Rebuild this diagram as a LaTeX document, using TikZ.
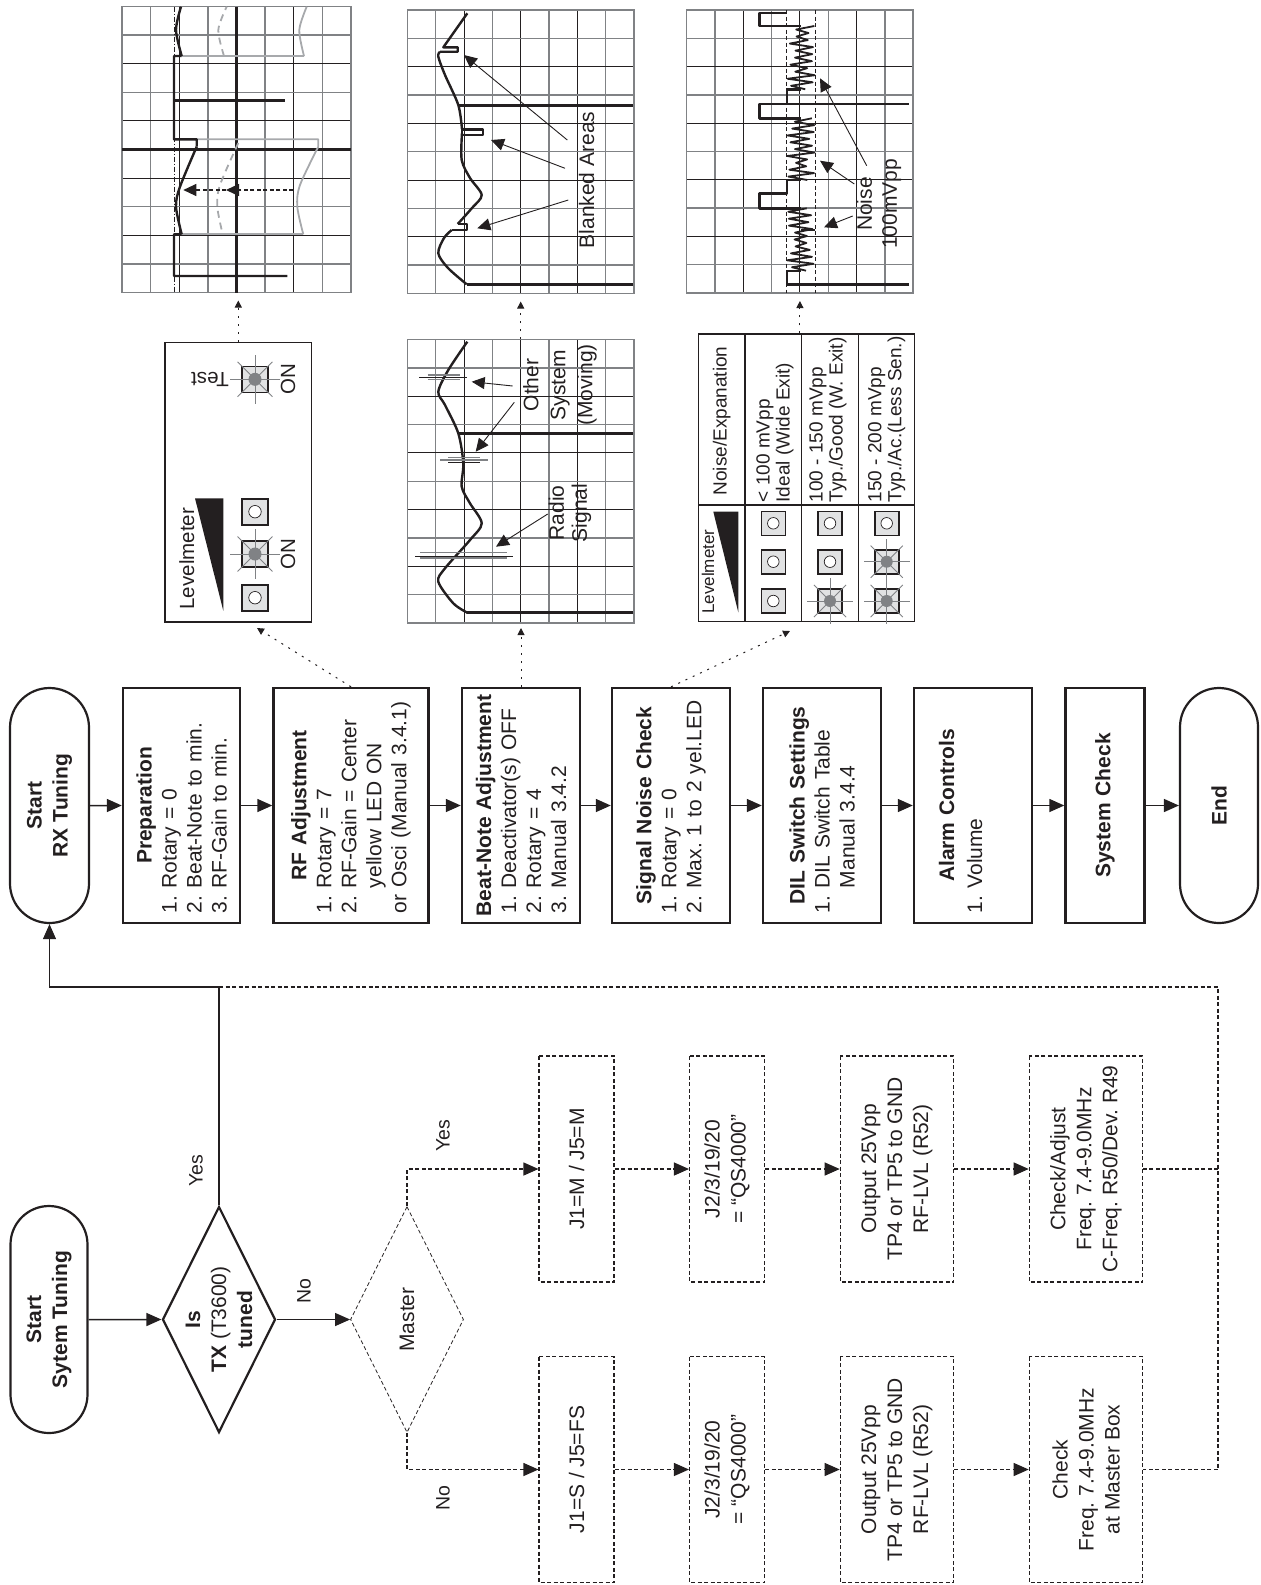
\documentclass[tikz,border=0pt]{standalone}
\usepackage{fontspec}
\setmainfont{Liberation Sans}
\usetikzlibrary{arrows.meta,positioning,calc,shapes.geometric,shapes.misc}
\definecolor{ink}{HTML}{231F20}
\definecolor{gridgray}{HTML}{808285}
\definecolor{tracegray}{HTML}{A7A9AC}
\definecolor{ledgray}{HTML}{E1E2E3}
\tikzset{
  base/.style={align=center,text=ink,font=\fontsize{21}{25}\selectfont,inner sep=0pt},
  stepbox/.style={base,draw=ink,line width=2.4pt,rotate=90,minimum width=235pt,
    text width=215pt,align=left},
  term/.style={base,draw=ink,line width=2.2pt,rotate=90,rounded rectangle,
    font=\fontsize{21}{26}\selectfont\bfseries},
  choice/.style={base,draw=ink,line width=2.2pt,rotate=90,diamond,aspect=2,inner sep=-20pt,
    minimum width=226pt,minimum height=113pt,font=\fontsize{21}{26}\selectfont},
  dashchoice/.style={choice,line width=.8pt,dash pattern=on 4pt off 2.5pt},
  dashbox/.style={base,draw=ink,line width=1.1pt,dash pattern=on 4pt off 2.5pt,rotate=90,
    minimum width=226pt,font=\fontsize{21}{26}\selectfont},
  txt/.style={base,rotate=90,font=\fontsize{19.5}{24}\selectfont},
  arrow/.style={-{Triangle[length=15pt,width=13pt]},line width=1.5pt,draw=ink},
  thinarrow/.style={arrow,line width=1.2pt},
  dasharrow/.style={arrow,line width=1.1pt,dash pattern=on 4pt off 2.5pt},
  dashline/.style={draw=ink,line width=1.1pt,dash pattern=on 4pt off 2.5pt},
  dotarrow/.style={-{Triangle[length=7pt,width=7pt]},draw=ink,line width=1pt,
    dash pattern=on 2pt off 6pt},
  callout/.style={-{Triangle[length=13pt,width=12pt]},draw=ink,line width=.9pt},
  trace/.style={draw=ink,line width=2.4pt,line join=round},
  heavy/.style={trace,line width=3pt},
  gtrace/.style={draw=tracegray,line width=1.8pt,line join=round},
  gdash/.style={gtrace,dash pattern=on 7pt off 5pt},
  ledframe/.style={draw=ink,line width=1.6pt,fill=ledgray},
  ray/.style={draw=gridgray,line width=.9pt},
  cell/.style={base,draw=ink,line width=1.4pt},
  tabtxt/.style={base,rotate=90,align=left,anchor=west,font=\fontsize{19}{20}\selectfont}
}
\newcommand{\headline}[1]{\makebox[\linewidth]{\bfseries #1}}
\newcommand{\noisetrace}[2]{%
  \draw[trace,line width=1.8pt] plot[variable=\t,domain=0:18,samples=19]
    ({800.7+cos(180*\t)*(4+10*rnd)},{#1+(#2-#1)*\t/18});
}
\newcommand{\scopegrid}[4]{%
  \foreach \i in {1,3,5,7} \draw[draw=gridgray,line width=1.4pt] ($(#2,#3)+(\i*#4,0)$) -- ++(0,10*#4);
  \foreach \i in {2,4,6} \draw[draw=ink,line width=1pt] ($(#2,#3)+(\i*#4,0)$) -- ++(0,10*#4);
  \foreach \j in {1,3,5,7,9} \draw[draw=gridgray,line width=1.4pt] ($(#2,#3)+(0,\j*#4)$) -- ++(8*#4,0);
  \foreach \j in {2,4,6,8} \draw[draw=ink,line width=1pt] ($(#2,#3)+(0,\j*#4)$) -- ++(8*#4,0);
  \draw[draw=gridgray,line width=1.4pt] (#2,#3) rectangle ++(8*#4,10*#4);
  \coordinate (#1) at ($(#2,#3)+(4*#4,10*#4)$);
}
\newcommand{\ledoff}[3]{\begin{scope}[shift={(#1,#2)}]
  \draw[ledframe] (-#3,-#3) rectangle (#3,#3);
  \draw[draw=ink,line width=.7pt,fill=white] (0,0) circle (.48*#3pt);
\end{scope}}
\newcommand{\ledon}[3]{\begin{scope}[shift={(#1,#2)}]
  \draw[ledframe] (-#3,-#3) rectangle (#3,#3);
  \foreach \a in {0,45,...,315} \draw[ray] (0,0) -- (\a:1.9*#3pt);
  \fill[gridgray] (0,0) circle (.5*#3pt);
\end{scope}}

\begin{document}
\frenchspacing
\begin{tikzpicture}[x=1pt,y=-1pt]
  \useasboundingbox (0,0) rectangle (1261,1585);

  % main row
  \node[term,minimum width=235pt,minimum height=79pt] (startrx) at (49.5,805.5) {Start\\RX Tuning};
  \node[stepbox,minimum height=117pt] (prep) at (181.5,805.5)
    {\headline{Preparation}\\1. Rotary = 0\\2. Beat-Note to min.\\3. RF-Gain to min.};
  \node[stepbox,minimum height=155pt] (rfadj) at (351,805.5)
    {\headline{RF Adjustment}\\1. Rotary = 7\\2. RF-Gain = Center\\\hspace*{25pt}yellow LED ON\\or Osci (Manual 3.4.1)};
  \node[stepbox,minimum height=118pt] (beat) at (521,805.5)
    {\headline{Beat-Note Adjustment}\\1. Deactivator(s) OFF\\2. Rotary = 4\\3. Manual 3.4.2};
  \node[stepbox,minimum height=118pt] (noisechk) at (671,805.5)
    {\headline{Signal Noise Check}\\1. Rotary = 0\\2. Max. 1 to 2 yel.LED};
  \node[stepbox,minimum height=118pt] (dil) at (822,805.5)
    {\headline{DIL Switch Settings}\\1. DIL Switch Table\\\hspace*{25pt}Manual 3.4.4};
  \node[stepbox,minimum height=118pt] (alarm) at (973,805.5)
    {\headline{Alarm Controls}\\[3pt]1. Volume\\[0pt]\mbox{}};
  \node[stepbox,minimum height=79pt] (syschk) at (1105,805.5) {\headline{System Check}};
  \node[term,minimum width=235pt,minimum height=78pt] (finish) at (1219,805.5) {End};

  \draw[arrow] (startrx) -- (prep);
  \draw[arrow] (prep) -- (rfadj);
  \draw[arrow] (rfadj) -- (beat);
  \draw[arrow] (beat) -- (noisechk);
  \draw[arrow] (noisechk) -- (dil);
  \draw[arrow] (dil) -- (alarm);
  \draw[arrow] (alarm) -- (syschk);
  \draw[arrow] (syschk) -- (finish);

  % lower part
  \node[term,minimum width=227pt,minimum height=77pt] (startsys) at (49,1319.5) {Start\\Sytem Tuning};
  \node[choice] (istx) at (219,1319.5) {\textbf{Is}\\\textbf{TX} (T3600)\\\textbf{tuned}};
  \node[dashchoice] (master) at (407,1319.5) {Master};

  \node[dashbox,minimum height=75pt] (jmaster) at (576.5,1169) {J1=M / J5=M};
  \node[dashbox,minimum height=75pt] (qmaster) at (727,1169) {J2/3/19/20\\= “QS4000”};
  \node[dashbox,minimum height=113.5pt] (omaster) at (897,1169) {Output 25Vpp\\TP4 or TP5 to GND\\RF-LVL (R52)};
  \node[dashbox,minimum height=113.5pt] (cmaster) at (1086,1169) {Check/Adjust\\Freq. 7.4-9.0MHz\\C-Freq. R50/Dev. R49};
  \node[dashbox,minimum height=75pt] (jslave) at (576.5,1469.5) {J1=S / J5=FS};
  \node[dashbox,minimum height=75pt] (qslave) at (727,1469.5) {J2/3/19/20\\= “QS4000”};
  \node[dashbox,minimum height=113.5pt] (oslave) at (897,1469.5) {Output 25Vpp\\TP4 or TP5 to GND\\RF-LVL (R52)};
  \node[dashbox,minimum height=113.5pt] (cslave) at (1086,1469.5) {Check\\Freq. 7.4-9.0MHz\\at Master Box};

  \coordinate (yesturn) at (219,987);
  \coordinate (bustop) at (1218,987);
  \coordinate (busup) at (1218,1169);
  \coordinate (buslow) at (1218,1469.5);

  \draw[arrow] (startsys) -- (istx);
  \draw[thinarrow] (istx) -- (master);
  \draw[thinarrow] (istx.east) -- (yesturn) -| (startrx.west);
  \draw[dasharrow] (master.east) |- (jmaster);
  \draw[dasharrow] (master.west) |- (jslave);
  \draw[dasharrow] (jmaster) -- (qmaster);
  \draw[dasharrow] (qmaster) -- (omaster);
  \draw[dasharrow] (omaster) -- (cmaster);
  \draw[dasharrow] (jslave) -- (qslave);
  \draw[dasharrow] (qslave) -- (oslave);
  \draw[dasharrow] (oslave) -- (cslave);
  \draw[dashline] (yesturn) -- (bustop) -- (buslow) -- (cslave);
  \draw[dashline] (busup) -- (cmaster);

  \node[txt] (yesmain) at (196,1171) {Yes};
  \node[txt] (nomain) at (304,1291) {No};
  \node[txt] (yesmaster) at (443,1136) {Yes};
  \node[txt] (nomaster) at (443,1498) {No};

  % scope pictures
  \scopegrid{scopeA}{122}{6.5}{28.6}
  \scopegrid{scopeB}{407.3}{10}{28.35}
  \scopegrid{scopeC}{686.7}{10}{28.3}
  \scopegrid{scopeD}{407.3}{339.5}{28.35}

  \draw[heavy] (236.7,6.5) -- (236.7,292.5);
  \draw[heavy] (122,149) -- (351,149);
  \draw[draw=ink,line width=.8pt,dash pattern=on 5pt off 2pt on 1pt off 2pt] (174,6.5) -- (174,292.5);
  \draw[gtrace] (181.7,56) -- (304,56) plot[smooth] coordinates {(304,56) (299.3,30) (306.7,6.7)};
  \draw[gtrace] (196.7,139.3) -- (318.3,139.3) -- (318.3,146.7) plot[smooth] coordinates {(318.3,146.7) (300,185) (297.3,206.7) (303.3,234.3)};
  \draw[gtrace] (303.3,234.3) -- (181.7,234.3);
  \draw[gdash] plot[smooth] coordinates {(224,56) (218.3,30) (226.7,6.7)};
  \draw[gdash] plot[smooth] coordinates {(238.3,143) (220,185) (217.3,206.7) (222.7,234.3)};
  \draw[trace] (287.3,276) -- (174,276) -- (174,234.3) -- (181.7,234.3) plot[smooth] coordinates {(181.7,234.3) (176,206.7) (180,186.7) (196.7,146.7)};
  \draw[trace] (196.7,146.7) -- (196.7,139.3) -- (174,139.3) -- (174,56) -- (181.7,56) plot[smooth] coordinates {(181.7,56) (176,30) (181,6.7)};
  \draw[heavy] (174,100) -- (285,100);
  \draw[dashline,-{Triangle[length=13pt,width=12pt]}] (293.3,190) -- (226,190);
  \draw[dashline,-{Triangle[length=13pt,width=12pt]}] (226,190) -- (183.3,190);

  \draw[heavy] (633.3,284.3) -- (466.7,284.3);
  \draw[trace] plot[smooth] coordinates {(466.7,284.3) (448,268) (438.3,253.3) (444,238) (451.7,230)};
  \draw[trace] (451.7,230) -- (466.7,230) -- (466.7,224) -- (457.7,224);
  \draw[trace] plot[smooth] coordinates {(457.7,224) (472,208) (481.7,195) (470,178) (461.7,160) (462,133)};
  \draw[trace] (462,129.3) rectangle (482.7,135);
  \draw[trace] plot[smooth] coordinates {(462,129.3) (458.3,105) (445,75) (438.3,56.7) (440,51.7)};
  \draw[trace] (440,51.7) -- (457.7,51.7) -- (457.7,47.3) -- (443.3,47.3) -- (467.3,13.3);
  \draw[heavy] (458.3,105) -- (633.3,105);
  \draw[callout] (567.3,140) -- (464,55);
  \draw[callout] (565,168.3) -- (491,140);
  \draw[callout] (568.3,200) -- (477.3,228.3);
  \node[txt,font=\fontsize{21}{24}\selectfont] (blanked) at (586.7,180) {Blanked Areas};

  \draw[heavy] (633.3,612.7) -- (467.3,612.7);
  \draw[trace] plot[smooth] coordinates {(467.3,612.7) (453.3,603.3) (438.3,581.7) (445,568.3) (470,540) (481.7,523.3) (470,503.3) (461.7,486.7) (463.3,463.3) (458.3,433.3) (445,405) (438.3,391.7) (448.3,370) (467.3,341.7)};
  \draw[heavy] (458.3,433.3) -- (633.3,433.3);
  \draw[draw=gridgray,line width=1.4pt] (420,552.7) -- (506.7,552.7) (420,558) -- (506.7,558);
  \draw[draw=ink,line width=.8pt] (415,556) -- (513.3,556);
  \draw[draw=gridgray,line width=1.2pt] (427.7,375) -- (460,375) (427.7,379.7) -- (460,379.7);
  \draw[draw=ink,line width=.8pt] (419.3,377.3) -- (467.3,377.3);
  \draw[draw=gridgray,line width=1.4pt] (440,460) -- (487.7,460) (448.3,457.3) -- (480,457.3);
  \draw[draw=ink,line width=.8pt] (448.3,462.3) -- (480,462.3);
  \draw[callout] (512.7,386) -- (471.7,381.7);
  \draw[callout] (514.3,402.3) -- (475.7,451.7);
  \draw[callout] (547.7,514) -- (496,546.7);
  \node[txt,font=\fontsize{21}{27}\selectfont] (othersys) at (560,385) {Other\\System\\(Moving)};
  \node[txt,font=\fontsize{21}{23}\selectfont] (radio) at (570,513) {Radio\\Signal};

  \draw[dashline] (786.7,10) -- (786.7,293);
  \draw[dashline] (815.3,10) -- (815.3,293);
  \pgfmathsetseed{7}
  \noisetrace{270.7}{208.3}
  \noisetrace{180}{118.3}
  \noisetrace{89.3}{26}
  \draw[trace] (909,284.3) -- (786.7,284.3) -- (786.7,270.7) -- (800.7,270.7);
  \draw[trace] (800.7,230) -- (815.3,230);
  \draw[trace] (800.7,208.3) -- (759.3,208.3) -- (759.3,193.3) -- (786.7,193.3) -- (786.7,180) -- (800.7,180);
  \draw[trace] (800.7,118.3) -- (759.3,118.3) -- (759.3,104) -- (909,104);
  \draw[trace] (786.7,104) -- (786.7,89.3) -- (800.7,89.3);
  \draw[trace] (800.7,26) -- (759.3,26) -- (759.3,12.7) -- (786.7,12.7);
  \draw[callout] (866.7,165.7) -- (820,78.3);
  \draw[callout] (854.3,184) -- (820,160.7);
  \draw[callout] (852.7,216) -- (824,227.3);
  \node[txt,font=\fontsize{21}{25}\selectfont] (noisenote) at (879,204) {Noise\\100mVpp};

  % level panel
  \node[cell,minimum width=146.7pt,minimum height=279.3pt] (levelpanel) at (238.3,482.3) {};
  \fill[ink] (195,498.3) -- (223.3,498.3) -- (223.3,610.7) -- cycle;
  \node[txt,font=\fontsize{20.5}{24}\selectfont] (levelA) at (186.7,558.7) {Levelmeter};
  \ledoff{255}{511.7}{13}
  \ledon{255}{554}{13}
  \ledoff{255}{597.7}{13}
  \ledon{255}{379.3}{13}
  \node[txt,font=\fontsize{20.5}{24}\selectfont] (onA) at (288,554) {ON};
  \node[txt,font=\fontsize{20.5}{24}\selectfont] (onB) at (288,379.3) {ON};
  \node[base,rotate=180,font=\fontsize{20.5}{24}\selectfont] (testlbl) at (210,379.3) {Test};

  % level table
  \node[cell,minimum width=216pt,minimum height=287.7pt] (leveltab) at (806.3,477.8) {};
  \draw[draw=ink,line width=1.4pt] (745,334) -- (745,621.7) (801.7,334) -- (801.7,621.7) (858.3,334) -- (858.3,621.7) (698.3,505) -- (914.3,505);
  \fill[ink] (713.3,511.7) -- (738.3,511.7) -- (738.3,612.3) -- cycle;
  \node[txt,font=\fontsize{17}{20}\selectfont] (levelB) at (708,571.7) {Levelmeter};
  \node[txt,font=\fontsize{19}{20}\selectfont] (noisehead) at (721.7,421) {Noise/Expanation};
  \node[tabtxt] (rowA) at (775,502.5) {< 100 mVpp\\Ideal (Wide Exit)};
  \node[tabtxt] (rowB) at (828,502.5) {100 - 150 mVpp\\Typ./Good (W. Exit)};
  \node[tabtxt] (rowC) at (886.7,502.5) {150 - 200 mVpp\\Typ./Ac.(Less Sen.)};
  \ledoff{773.3}{523.3}{12}
  \ledoff{773.3}{561.7}{12}
  \ledoff{773.3}{601}{12}
  \ledoff{830}{523.3}{12}
  \ledoff{830}{561.7}{12}
  \ledon{830}{601}{12}
  \ledoff{886.7}{523.3}{12}
  \ledon{886.7}{561.7}{12}
  \ledon{886.7}{601}{12}

  % dotted links
  \coordinate (paneltip) at (257,628);
  \coordinate (tabletip) at (790,631);
  \draw[dotarrow] (rfadj.east) -- (paneltip);
  \draw[dotarrow,shorten >=5pt] (beat.east) -- (beat.east |- scopeD);
  \draw[dotarrow] (noisechk.east) -- (tabletip);
  \draw[dotarrow,shorten >=8pt] (levelpanel.north) -- (levelpanel.north |- scopeA);
  \draw[dotarrow,shorten >=8pt] ($(scopeD)+(0,-284)$) -- (scopeB);
  \draw[dotarrow,shorten >=8pt] (leveltab.north -| scopeC) -- (scopeC);
\end{tikzpicture}
\end{document}
